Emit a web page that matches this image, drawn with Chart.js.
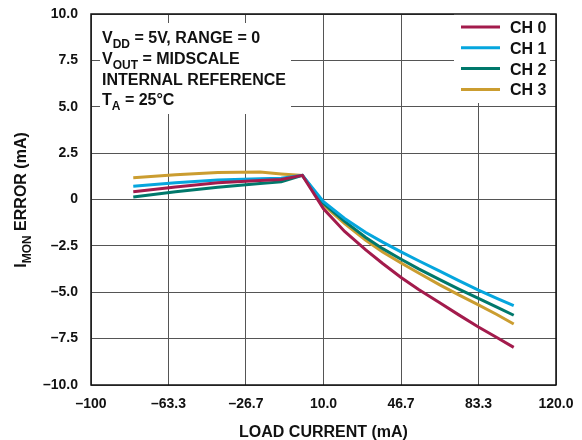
<!DOCTYPE html>
<html>
<head>
<meta charset="utf-8">
<script src="https://cdn.jsdelivr.net/npm/chart.js@4/dist/chart.umd.min.js"></script>
<style>
    html, body { margin: 0; padding: 0; background: #fff; }
    #chart { display: block; }
</style>
</head>
<body>
<canvas id="chart" width="582" height="440"></canvas>
<script>
    // load current (mA) where the curves were sampled
    const xValues = [-80, -60, -40, -20, -10, 0, 10, 20, 30, 38, 46.7, 55, 65, 74, 83.3, 92, 100];

    // IMON error (mA), one array per channel
    const ch0 = [0.42, 0.68, 0.90, 1.03, 1.08, 1.30, -0.50, -1.72, -2.72, -3.45, -4.20, -4.85, -5.57, -6.22, -6.87, -7.44, -7.97];
    const ch1 = [0.72, 0.90, 1.05, 1.12, 1.15, 1.30, -0.12, -1.02, -1.78, -2.30, -2.82, -3.30, -3.86, -4.37, -4.88, -5.33, -5.72];
    const ch2 = [0.13, 0.42, 0.66, 0.86, 0.95, 1.30, -0.22, -1.18, -2.05, -2.65, -3.22, -3.74, -4.32, -4.83, -5.33, -5.80, -6.24];
    const ch3 = [1.17, 1.33, 1.45, 1.48, 1.38, 1.30, -0.30, -1.30, -2.20, -2.83, -3.42, -3.96, -4.60, -5.14, -5.68, -6.20, -6.71];

    const seriesLabels = ['CH 0', 'CH 1', 'CH 2', 'CH 3'];
    const seriesColors = ['#A31B4C', '#05A6DE', '#00786B', '#CB9D30'];

    const xTickValues = [-100, -63.333, -26.667, 10, 46.667, 83.333, 120];
    const xTickLabels = ['\u2013100', '\u201363.3', '\u201326.7', '10.0', '46.7', '83.3', '120.0'];
    const yTickValues = [-10, -7.5, -5, -2.5, 0, 2.5, 5, 7.5, 10];
    const yTickLabels = ['\u201310.0', '\u20137.5', '\u20135.0', '\u20132.5', '0', '2.5', '5.0', '7.5', '10.0'];

    const FONT = '"Liberation Sans", Arial, sans-serif';

    const notes = [
        [['V'], ['DD', true], [' = 5V, RANGE = 0']],
        [['V'], ['OUT', true], [' = MIDSCALE']],
        [['INTERNAL REFERENCE']],
        [['T'], ['A', true], [' = 25\u00B0C']]
    ];

    function drawRuns(ctx, x, y, runs, size, subSize) {
        let cx = x;
        runs.forEach(([text, sub]) => {
            ctx.font = `bold ${sub ? subSize : size}px ${FONT}`;
            ctx.fillText(text, cx, sub ? y + 5 : y);
            cx += ctx.measureText(text).width;
        });
        return cx - x;
    }

    function runsWidth(ctx, runs, size, subSize) {
        return runs.reduce((w, [text, sub]) => {
            ctx.font = `bold ${sub ? subSize : size}px ${FONT}`;
            return w + ctx.measureText(text).width;
        }, 0);
    }

    function noOverflow(scale) {
        scale.paddingTop = 0;
        scale.paddingBottom = 0;
        scale.paddingLeft = 0;
        scale.paddingRight = 0;
    }

    const overlay = {
        id: 'overlay',
        beforeDatasetsDraw(chart) {
            const ctx = chart.ctx;
            ctx.save();
            ctx.fillStyle = '#fff';
            ctx.fillRect(100, 23, 191, 91);   // note box
            ctx.fillRect(454, 14, 96, 89);    // legend box
            ctx.restore();
        },
        afterDatasetsDraw(chart) {
            const { ctx, chartArea: a } = chart;
            ctx.save();
            ctx.strokeStyle = '#111';
            ctx.lineWidth = 1.5;
            ctx.strokeRect(a.left, a.top, a.right - a.left, a.bottom - a.top);
            ctx.restore();
        },
        afterDraw(chart) {
            const { ctx, chartArea: a } = chart;
            ctx.save();
            ctx.fillStyle = '#111';
            ctx.textBaseline = 'alphabetic';
            ctx.textAlign = 'left';

            // condition notes
            const baselines = [43, 64, 85, 105];
            notes.forEach((runs, i) => drawRuns(ctx, 102, baselines[i], runs, 16, 12));

            // legend
            chart.data.datasets.forEach((ds, i) => {
                const y = 27 + i * 20.8;
                ctx.strokeStyle = ds.borderColor;
                ctx.lineWidth = 3;
                ctx.beginPath();
                ctx.moveTo(461, y);
                ctx.lineTo(500, y);
                ctx.stroke();
                ctx.font = `bold 16px ${FONT}`;
                ctx.fillStyle = '#111';
                ctx.fillText(ds.label, 510, y + 6);
            });

            // x axis title
            ctx.font = `bold 16px ${FONT}`;
            ctx.textAlign = 'center';
            ctx.fillText('LOAD CURRENT (mA)', (a.left + a.right) / 2, 437);

            // y axis title with subscript
            const yRuns = [['I'], ['MON', true], [' ERROR (mA)']];
            ctx.textAlign = 'left';
            ctx.translate(20, 200);
            ctx.rotate(-Math.PI / 2);
            const w = runsWidth(ctx, yRuns, 16, 12);
            drawRuns(ctx, -w / 2, 6, yRuns, 16, 12);
            ctx.restore();
        }
    };

    const series = [ch0, ch1, ch2, ch3];

    new Chart(document.getElementById('chart'), {
        type: 'line',
        data: {
            datasets: series.map((values, i) => ({
                label: seriesLabels[i],
                data: values.map((y, j) => ({ x: xValues[j], y })),
                borderColor: seriesColors[i],
                backgroundColor: seriesColors[i],
                borderWidth: 3,
                pointRadius: 0,
                tension: 0,
                fill: false
            }))
        },
        options: {
            responsive: false,
            animation: false,
            devicePixelRatio: 1,
            layout: { padding: { left: 0, right: 26, top: 14, bottom: 0 } },
            plugins: {
                legend: { display: false },
                tooltip: { enabled: false }
            },
            scales: {
                x: {
                    type: 'linear',
                    min: -100,
                    max: 120,
                    afterBuildTicks: (scale) => {
                        scale.ticks = xTickValues.map((v) => ({ value: v }));
                    },
                    afterFit: (scale) => {
                        scale.height = 55;
                        noOverflow(scale);
                    },
                    grid: { color: '#555', lineWidth: 1, drawTicks: false },
                    border: { display: false },
                    ticks: {
                        padding: 11,
                        color: '#111',
                        maxRotation: 0,
                        autoSkip: false,
                        font: { family: FONT, size: 14, weight: 'bold' },
                        callback: (value, index) => xTickLabels[index]
                    }
                },
                y: {
                    min: -10,
                    max: 10,
                    afterBuildTicks: (scale) => {
                        scale.ticks = yTickValues.map((v) => ({ value: v }));
                    },
                    afterFit: (scale) => {
                        scale.width = 91;
                        noOverflow(scale);
                    },
                    grid: { color: '#555', lineWidth: 1, drawTicks: false },
                    border: { display: false },
                    ticks: {
                        padding: 13,
                        color: '#111',
                        autoSkip: false,
                        font: { family: FONT, size: 14, weight: 'bold' },
                        callback: (value, index) => yTickLabels[index]
                    }
                }
            }
        },
        plugins: [overlay]
    });
</script>
</body>
</html>
